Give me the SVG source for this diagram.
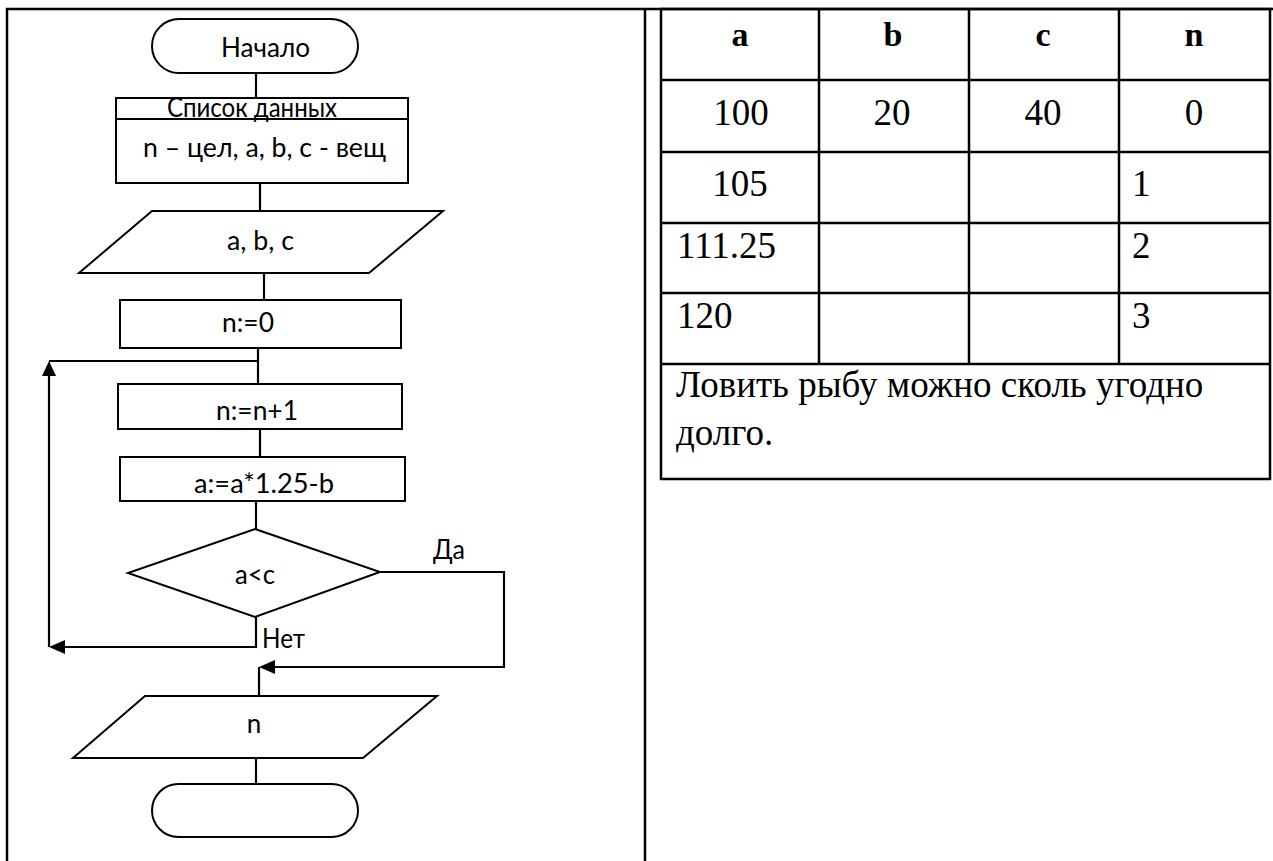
<svg xmlns="http://www.w3.org/2000/svg" width="1273" height="861" viewBox="0 0 1273 861">
<style>
.s{fill:none;stroke:#000;stroke-width:2}
.c{stroke:#000;stroke-width:2.2;fill:none}
.f{font-family:Lato,"Open Sans","Liberation Sans",sans-serif;font-size:26px;fill:#000}
.t{font-family:"Liberation Serif","Times New Roman",serif;font-size:37px;fill:#000}
.h{font-family:"Liberation Serif","Times New Roman",serif;font-size:34px;font-weight:bold;fill:#000}
.g{stroke:#000;stroke-width:2.5;fill:none}
</style>
<rect width="1273" height="861" fill="#fff"/>
<g id="frame">
<path class="g" d="M7,861 V9 H1273 M645,9 V861"/>
</g>
<g id="connectors">
<path class="c" d="M256,73 V98"/>
<path class="c" d="M260,183 V211"/>
<path class="c" d="M264,273 V299"/>
<path class="c" d="M258,348 V384"/>
<path class="c" d="M260,429 V457"/>
<path class="c" d="M256,501 V529"/>
<path class="c" d="M258,361 H49"/>
<path class="c" d="M49,647 V376"/>
<path d="M49,361 L42,376 L56,376 Z" fill="#000"/>
<path class="c" d="M256,617 V647 H64"/>
<path d="M49,647 L65,640 L65,654 Z" fill="#000"/>
<path class="c" d="M380,572 H504 V667 H274"/>
<path d="M259,667 L275,660 L275,674 Z" fill="#000"/>
<path class="c" d="M259,667 V696"/>
<path class="c" d="M256,758 V784"/>
</g>
<g id="start">
<rect class="s" x="152" y="19" width="206" height="54" rx="27" ry="27"/>
<text class="f" x="265.5" y="57" text-anchor="middle" textLength="89" lengthAdjust="spacingAndGlyphs">Начало</text>
</g>
<g id="data">
<rect class="s" x="116" y="98" width="292" height="85"/>
<line class="s" x1="116" y1="119" x2="408" y2="119"/>
<text class="f" x="252" y="117" text-anchor="middle" textLength="170" lengthAdjust="spacingAndGlyphs">Список данных</text>
<text class="f" x="264.5" y="157" text-anchor="middle" textLength="243" lengthAdjust="spacingAndGlyphs">n – цел, a, b, c - вещ</text>
</g>
<g id="input">
<polygon class="s" points="152,211 443,211 369,273 79,273"/>
<text class="f" x="260.5" y="250" text-anchor="middle" textLength="67" lengthAdjust="spacingAndGlyphs">a, b, c</text>
</g>
<g id="init">
<rect class="s" x="120" y="300" width="281" height="48"/>
<text class="f" x="248" y="332" text-anchor="middle" textLength="52" lengthAdjust="spacingAndGlyphs">n:=0</text>
</g>
<g id="inc">
<rect class="s" x="118" y="384" width="284" height="45"/>
<text class="f" x="257" y="420" text-anchor="middle" textLength="82" lengthAdjust="spacingAndGlyphs">n:=n+1</text>
</g>
<g id="calc">
<rect class="s" x="120" y="457" width="285" height="44"/>
<text class="f" x="264" y="493" text-anchor="middle" textLength="140" lengthAdjust="spacingAndGlyphs">a:=a*1.25-b</text>
</g>
<g id="cond">
<polygon class="s" points="255,529 380,572 255,617 128,573"/>
<text class="f" x="255" y="584" text-anchor="middle" textLength="40" lengthAdjust="spacingAndGlyphs">a&lt;c</text>
<text class="f" x="449" y="559" text-anchor="middle" textLength="32" lengthAdjust="spacingAndGlyphs">Да</text>
<text class="f" x="262" y="648" textLength="43" lengthAdjust="spacingAndGlyphs">Нет</text>
</g>
<g id="output">
<polygon class="s" points="145,696 437,696 363,758 73,758"/>
<text class="f" x="254" y="733" text-anchor="middle">n</text>
</g>
<g id="end">
<rect class="s" x="152" y="784" width="206" height="53" rx="26.5" ry="26.5"/>
</g>
<g id="table">
<path class="g" d="M661,9 H1270 V479 H661 Z M661,80 H1270 M661,152 H1270 M661,223 H1270 M661,293 H1270 M661,364 H1270 M819,9 V364 M969,9 V364 M1119,9 V364"/>
<text class="h" x="740" y="46" text-anchor="middle">a</text>
<text class="h" x="893" y="46" text-anchor="middle">b</text>
<text class="h" x="1043" y="46" text-anchor="middle">c</text>
<text class="h" x="1194" y="46" text-anchor="middle">n</text>
<text class="t" x="741" y="125" text-anchor="middle">100</text>
<text class="t" x="892" y="125" text-anchor="middle">20</text>
<text class="t" x="1043" y="125" text-anchor="middle">40</text>
<text class="t" x="1194" y="125" text-anchor="middle">0</text>
<text class="t" x="740" y="196" text-anchor="middle">105</text>
<text class="t" x="1132" y="196">1</text>
<text class="t" x="677" y="258">111.25</text>
<text class="t" x="1132" y="258">2</text>
<text class="t" x="677" y="328">120</text>
<text class="t" x="1132" y="328">3</text>
<text class="t" x="676" y="397">Ловить рыбу можно сколь угодно</text>
<text class="t" x="676" y="445">долго.</text>
</g>
</svg>
